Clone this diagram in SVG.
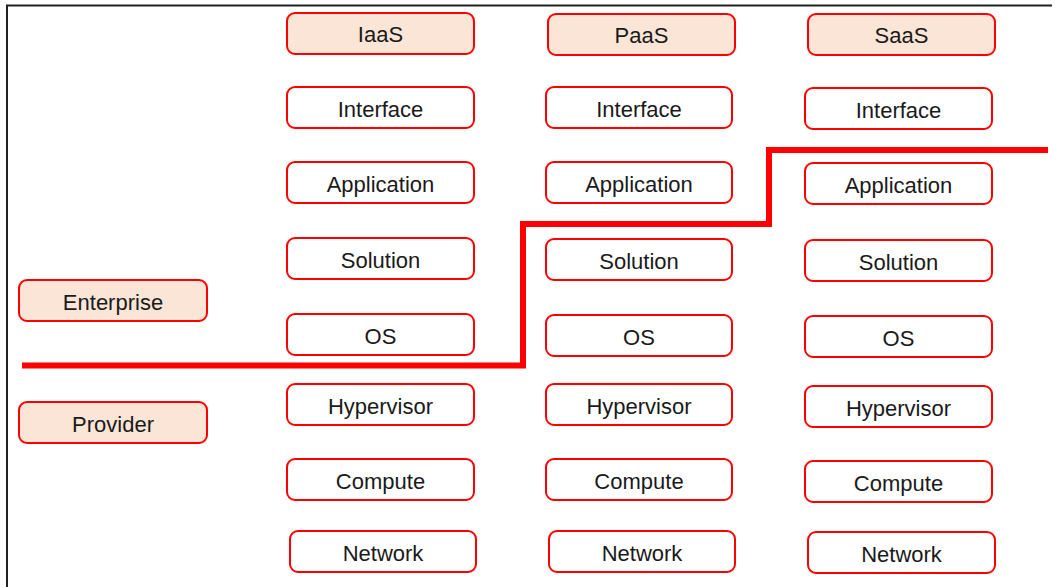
<svg xmlns="http://www.w3.org/2000/svg" width="1056" height="587" viewBox="0 0 1056 587">
<style>
.b rect{fill:#ffffff;stroke:#ff0000;stroke-width:2}
.h rect{fill:#fbe5d6;stroke:#ff0000;stroke-width:2}
text{font-family:"Liberation Sans",Arial,sans-serif;font-size:22px;fill:#1a1a1a;text-anchor:middle}
</style>
<rect x="0" y="0" width="1056" height="587" fill="#ffffff"/>
<path d="M7 587 V5.5 H1052" fill="none" stroke="#222" stroke-width="2"/>
<g id="iaas" class="h"><rect x="287" y="13" width="187" height="41" rx="8"/><text x="380.5" y="42">IaaS</text></g>
<g id="paas" class="h"><rect x="548" y="14" width="187" height="41" rx="8"/><text x="641.5" y="43">PaaS</text></g>
<g id="saas" class="h"><rect x="808" y="14" width="187" height="41" rx="8"/><text x="901.5" y="43">SaaS</text></g>
<g id="enterprise" class="h"><rect x="19" y="280" width="188" height="41" rx="8"/><text x="113" y="309.5">Enterprise</text></g>
<g id="provider" class="h"><rect x="19" y="402" width="188" height="41" rx="8"/><text x="113" y="431.5">Provider</text></g>

<g id="iaas-interface" class="b"><rect x="287" y="87" width="187" height="41" rx="8"/><text x="380.5" y="116.5">Interface</text></g>
<g id="iaas-application" class="b"><rect x="287" y="162" width="187" height="41" rx="8"/><text x="380.5" y="191.5">Application</text></g>
<g id="iaas-solution" class="b"><rect x="287" y="238" width="187" height="41" rx="8"/><text x="380.5" y="267.5">Solution</text></g>
<g id="iaas-os" class="b"><rect x="287" y="314" width="187" height="41" rx="8"/><text x="380.5" y="343.5">OS</text></g>
<g id="iaas-hypervisor" class="b"><rect x="287" y="384" width="187" height="41" rx="8"/><text x="380.5" y="413.5">Hypervisor</text></g>
<g id="iaas-compute" class="b"><rect x="287" y="459" width="187" height="41" rx="8"/><text x="380.5" y="488.5">Compute</text></g>
<g id="iaas-network" class="b"><rect x="290" y="531" width="186" height="41" rx="8"/><text x="383" y="560.5">Network</text></g>

<g id="paas-interface" class="b"><rect x="546" y="87" width="186" height="41" rx="8"/><text x="639" y="116.5">Interface</text></g>
<g id="paas-application" class="b"><rect x="546" y="162" width="186" height="41" rx="8"/><text x="639" y="191.5">Application</text></g>
<g id="paas-solution" class="b"><rect x="546" y="239" width="186" height="41" rx="8"/><text x="639" y="268.5">Solution</text></g>
<g id="paas-os" class="b"><rect x="546" y="315" width="186" height="41" rx="8"/><text x="639" y="344.5">OS</text></g>
<g id="paas-hypervisor" class="b"><rect x="546" y="384" width="186" height="41" rx="8"/><text x="639" y="413.5">Hypervisor</text></g>
<g id="paas-compute" class="b"><rect x="546" y="459" width="186" height="41" rx="8"/><text x="639" y="488.5">Compute</text></g>
<g id="paas-network" class="b"><rect x="549" y="531" width="186" height="41" rx="8"/><text x="642" y="560.5">Network</text></g>

<g id="saas-interface" class="b"><rect x="805" y="88" width="187" height="41" rx="8"/><text x="898.5" y="117.5">Interface</text></g>
<g id="saas-application" class="b"><rect x="805" y="163" width="187" height="41" rx="8"/><text x="898.5" y="192.5">Application</text></g>
<g id="saas-solution" class="b"><rect x="805" y="240" width="187" height="41" rx="8"/><text x="898.5" y="269.5">Solution</text></g>
<g id="saas-os" class="b"><rect x="805" y="316" width="187" height="41" rx="8"/><text x="898.5" y="345.5">OS</text></g>
<g id="saas-hypervisor" class="b"><rect x="805" y="386" width="187" height="41" rx="8"/><text x="898.5" y="415.5">Hypervisor</text></g>
<g id="saas-compute" class="b"><rect x="805" y="461" width="187" height="41" rx="8"/><text x="898.5" y="490.5">Compute</text></g>
<g id="saas-network" class="b"><rect x="808" y="532" width="187" height="41" rx="8"/><text x="901.5" y="561.5">Network</text></g>

<g id="connectors">
<path d="M22 365.5 H523 V224 H769 V150 H1048" fill="none" stroke="#ff0000" stroke-width="6"/>
</g>
</svg>
